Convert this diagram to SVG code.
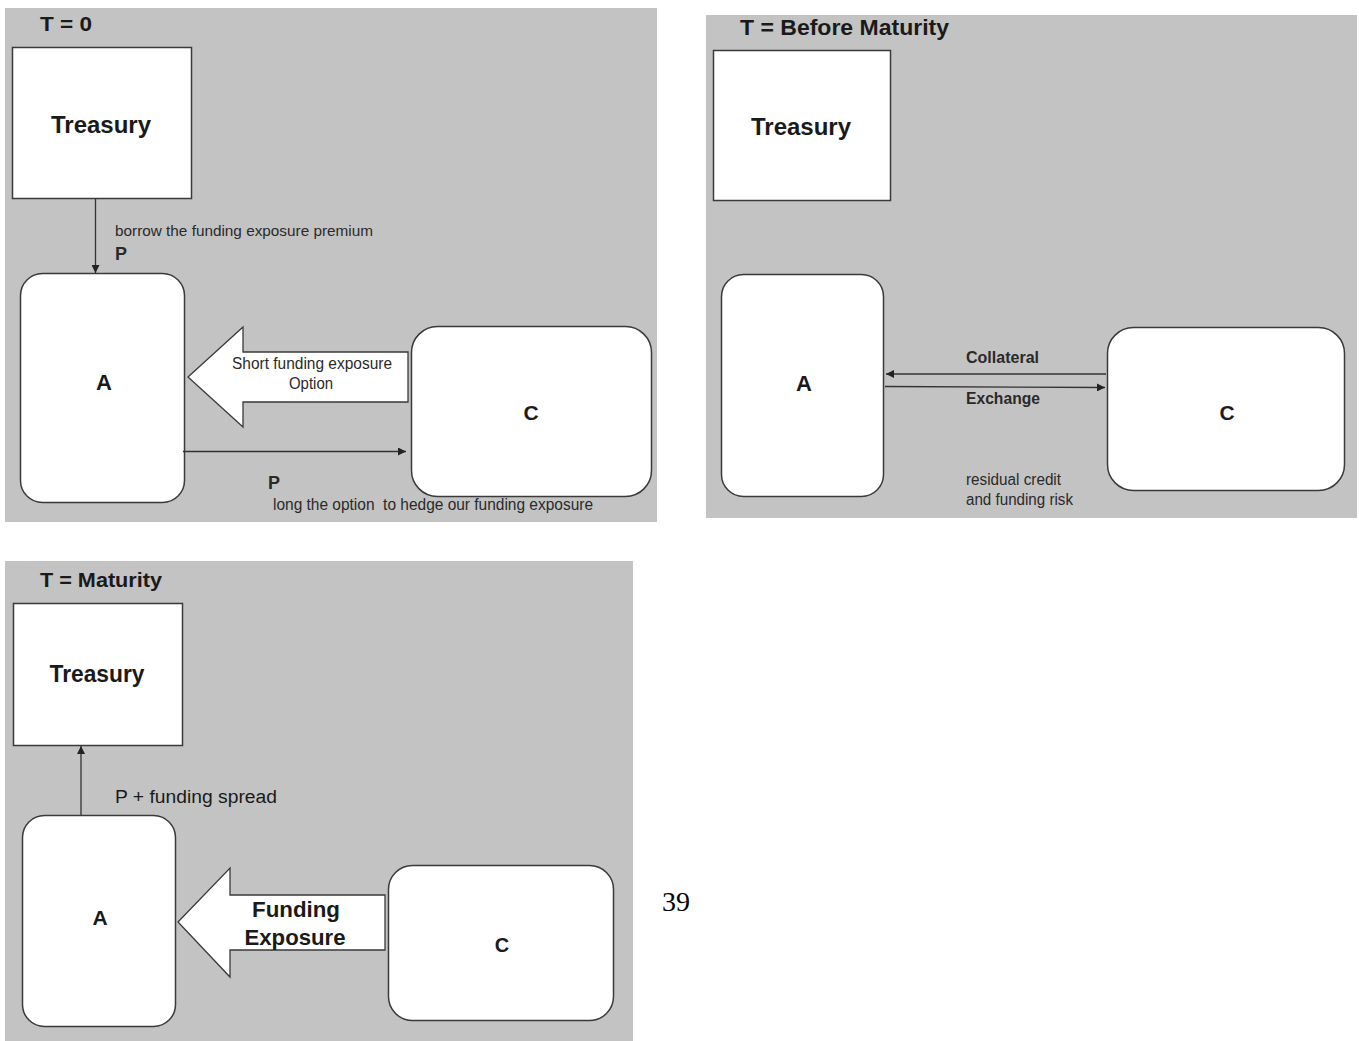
<svg xmlns="http://www.w3.org/2000/svg" width="1359" height="1041" viewBox="0 0 1359 1041">
<defs>
<style>
.bg{fill:#c3c3c3}
.box{fill:#fff;stroke:#3a3a3a;stroke-width:1.5}
.conn{stroke:#333;stroke-width:1.3;fill:none}
.blk{fill:#fff;stroke:#3a3a3a;stroke-width:1.3}
text{font-family:"Liberation Sans",Arial,sans-serif;fill:#1a1a1a}
.title{font-size:21px;font-weight:bold}
.node{font-size:23px;font-weight:bold}
.lbl{font-size:15px;fill:#2a2a2a}
.bl{font-size:16px;font-weight:bold;fill:#2a2a2a}
.pg{font-family:"Liberation Serif","Times New Roman",serif;font-size:28px;fill:#000}
</style>
<marker id="ah" viewBox="0 0 10 10" refX="10" refY="5" markerWidth="9" markerHeight="8" markerUnits="userSpaceOnUse" orient="auto">
<path d="M0,0 L10,5 L0,10 z" fill="#222"/>
</marker>
</defs>
<rect width="1359" height="1041" fill="#fff"/>
<!-- Panel 1 -->
<rect class="bg" x="5" y="8" width="652" height="514"/>
<text class="title" x="40" y="31" textLength="52" lengthAdjust="spacingAndGlyphs">T = 0</text>
<g id="p1-treasury"><rect class="box" x="12.5" y="47.5" width="179" height="151"/><text class="node" x="101" y="133" text-anchor="middle" textLength="100" lengthAdjust="spacingAndGlyphs">Treasury</text></g>
<g id="p1-A"><rect class="box" x="20.5" y="273.5" width="164" height="229" rx="22"/><text class="node" x="104" y="390" text-anchor="middle" style="font-size:22px">A</text></g>
<g id="p1-C"><rect class="box" x="411.5" y="326.5" width="240" height="170" rx="26"/><text class="node" x="531" y="420" text-anchor="middle" style="font-size:21px">C</text></g>
<g id="p1-connectors">
<line class="conn" x1="95.5" y1="199" x2="95.5" y2="273" marker-end="url(#ah)"/>
<line class="conn" x1="183" y1="451.5" x2="406" y2="451.5" marker-end="url(#ah)"/>
<polygon class="blk" points="188,377 243,327 243,352 408,352 408,402 243,402 243,427"/>
</g>
<text class="lbl" x="115" y="236" textLength="258" lengthAdjust="spacingAndGlyphs">borrow the funding exposure premium</text>
<text class="bl" x="115" y="260" style="font-size:18px">P</text>
<text class="lbl" x="312" y="369" text-anchor="middle" style="font-size:16px" textLength="160" lengthAdjust="spacingAndGlyphs">Short funding exposure</text>
<text class="lbl" x="311" y="389" text-anchor="middle" style="font-size:16px" textLength="44" lengthAdjust="spacingAndGlyphs">Option</text>
<text class="bl" x="268" y="489" style="font-size:18px">P</text>
<text class="lbl" x="273" y="510" style="font-size:16px;white-space:pre" xml:space="preserve" textLength="320" lengthAdjust="spacingAndGlyphs">long the option  to hedge our funding exposure</text>
<!-- Panel 2 -->
<rect class="bg" x="706" y="15" width="651" height="503"/>
<text class="title" x="740" y="35" style="font-size:22px" textLength="209" lengthAdjust="spacingAndGlyphs">T = Before Maturity</text>
<g id="p2-treasury"><rect class="box" x="713.5" y="50.5" width="177" height="150"/><text class="node" x="801" y="135" text-anchor="middle" textLength="100" lengthAdjust="spacingAndGlyphs">Treasury</text></g>
<g id="p2-A"><rect class="box" x="721.5" y="274.5" width="162" height="222" rx="22"/><text class="node" x="804" y="391" text-anchor="middle" style="font-size:22px">A</text></g>
<g id="p2-C"><rect class="box" x="1107.5" y="327.5" width="237" height="163" rx="26"/><text class="node" x="1227" y="420" text-anchor="middle" style="font-size:21px">C</text></g>
<g id="p2-connectors">
<line class="conn" x1="1106" y1="374" x2="886" y2="374" marker-end="url(#ah)"/>
<line class="conn" x1="885" y1="386.5" x2="1105" y2="387.5" marker-end="url(#ah)"/>
</g>
<text class="bl" x="966" y="363" textLength="73" lengthAdjust="spacingAndGlyphs">Collateral</text>
<text class="bl" x="966" y="404" textLength="74" lengthAdjust="spacingAndGlyphs">Exchange</text>
<text class="lbl" x="966" y="485" style="font-size:16px" textLength="95" lengthAdjust="spacingAndGlyphs">residual credit</text>
<text class="lbl" x="966" y="505" style="font-size:16px" textLength="107" lengthAdjust="spacingAndGlyphs">and funding risk</text>
<!-- Panel 3 -->
<rect class="bg" x="5" y="561" width="628" height="480"/>
<text class="title" x="40" y="587" textLength="122" lengthAdjust="spacingAndGlyphs">T = Maturity</text>
<g id="p3-treasury"><rect class="box" x="13.5" y="603.5" width="169" height="142"/><text class="node" x="97" y="682" text-anchor="middle" textLength="95" lengthAdjust="spacingAndGlyphs">Treasury</text></g>
<g id="p3-A"><rect class="box" x="22.5" y="815.5" width="153" height="211" rx="22"/><text class="node" x="100" y="925" text-anchor="middle" style="font-size:21px">A</text></g>
<g id="p3-C"><rect class="box" x="388.5" y="865.5" width="225" height="155" rx="24"/><text class="node" x="502" y="952" text-anchor="middle" style="font-size:20px">C</text></g>
<g id="p3-connectors">
<line class="conn" x1="81" y1="815" x2="81" y2="746" marker-end="url(#ah)"/>
<polygon class="blk" points="178,922 230,868 230,895 385,895 385,950 230,950 230,977"/>
</g>
<text class="lbl" x="115" y="803" style="font-size:18px;fill:#1a1a1a" textLength="162" lengthAdjust="spacingAndGlyphs">P + funding spread</text>
<text class="bl" x="296" y="917" text-anchor="middle" style="font-size:22px;fill:#1a1a1a" textLength="88" lengthAdjust="spacingAndGlyphs">Funding</text>
<text class="bl" x="295" y="945" text-anchor="middle" style="font-size:22px;fill:#1a1a1a" textLength="101" lengthAdjust="spacingAndGlyphs">Exposure</text>
<text class="pg" x="662" y="911">39</text>
</svg>
